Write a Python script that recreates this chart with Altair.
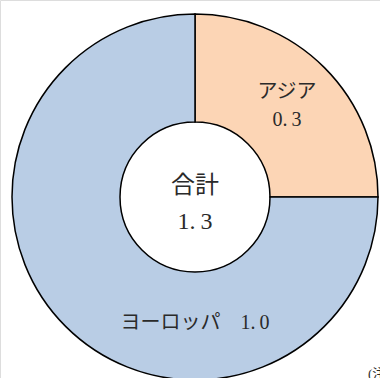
import altair as alt
import pandas as pd

regions = ["アジア", "ヨーロッパ"]
values = [0.3, 1.0]
shares = [25, 75]  # angular share
value_labels = ["0.\u20093", "1.\u20090"]
colors = ["#FCD5B5", "#B9CDE5"]
total_label = ["合計", "1.\u20093"]
note = "(注)"

df = pd.DataFrame({"region": regions, "value": values, "share": shares,
                   "order": [0, 1]})

FONT = "Liberation Serif, Noto Sans CJK JP"
CX, CY = 195, 197
TXT = "#2a2a2a"

arc = alt.Chart(df).mark_arc(outerRadius=183, innerRadius=75, stroke="black",
                             strokeWidth=1.5).encode(
    theta=alt.Theta("share:Q", stack=True),
    order=alt.Order("order:Q"),
    color=alt.Color("region:N", scale=alt.Scale(domain=regions, range=colors), legend=None),
    x=alt.value(CX), y=alt.value(CY),
)

base_text = dict(font=FONT, color=TXT, fontSize=20, align="center", baseline="middle")

asia_name = alt.Chart(df).transform_filter(alt.datum.region == regions[0]).mark_text(**base_text).encode(
    text="region:N", x=alt.value(287), y=alt.value(92))
asia_val = alt.Chart(pd.DataFrame({"t": [value_labels[0]]})).mark_text(**base_text).encode(
    text="t:N", x=alt.value(287), y=alt.value(120))
eu = alt.Chart(pd.DataFrame({"t": [regions[1] + "　" + value_labels[1]]})).mark_text(**base_text).encode(
    text="t:N", x=alt.value(CX), y=alt.value(323))

center1 = alt.Chart(pd.DataFrame({"t": [total_label[0]]})).mark_text(
    font=FONT, color=TXT, fontSize=24, align="center", baseline="middle").encode(
    text="t:N", x=alt.value(CX), y=alt.value(186))
center2 = alt.Chart(pd.DataFrame({"t": [total_label[1]]})).mark_text(
    font=FONT, color=TXT, fontSize=24, align="center", baseline="middle").encode(
    text="t:N", x=alt.value(CX), y=alt.value(222))

note_t = alt.Chart(pd.DataFrame({"t": [note]})).mark_text(
    font=FONT, color=TXT, fontSize=13, align="left", baseline="middle").encode(
    text="t:N", x=alt.value(368), y=alt.value(374))

chart = alt.layer(arc, asia_name, asia_val, eu, center1, center2, note_t).properties(
    width=380, height=378, padding=0, autosize=alt.AutoSizeParams(type="none")
).configure_view(stroke=None).configure(background="white")

chart.save("out.html", embed_options={"renderer": "svg", "actions": False})
